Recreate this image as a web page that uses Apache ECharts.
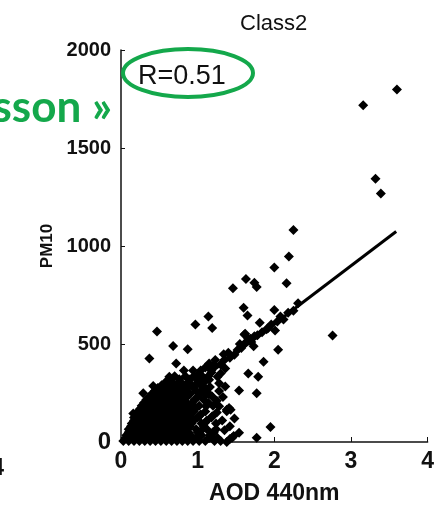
<!DOCTYPE html>
<html>
<head>
<meta charset="utf-8">
<script src="https://cdn.jsdelivr.net/npm/echarts@6/dist/echarts.min.js"></script>
<style>
  html, body { margin: 0; padding: 0; background: #fff; }
  #chart { width: 437px; height: 510px; }
</style>
</head>
<body>
<div id="chart"></div>
<script>
// AOD 440nm vs PM10
const xTicks = [0, 1, 2, 3, 4]
const yTicks = [0, 500, 1000, 1500, 2000]

// the big black blob near the origin, row by row (pm10 level, aod values)
const denseRows = [
  [5, [0.03, 0.10, 0.17, 0.24, 0.31, 0.38, 0.45, 0.52, 0.59, 0.66, 0.73, 0.80, 0.87, 0.94, 1.02, 1.10, 1.22, 1.30]],
  [20, [0.06, 0.13, 0.20, 0.27, 0.34, 0.41, 0.48, 0.55, 0.62, 0.69, 0.76, 0.83, 0.90, 0.98, 1.15, 1.26]],
  [35, [0.07, 0.14, 0.21, 0.28, 0.35, 0.42, 0.49, 0.56, 0.63, 0.70, 0.77, 0.84, 0.91, 1.05, 1.16]],
  [50, [0.10, 0.17, 0.24, 0.31, 0.38, 0.45, 0.52, 0.59, 0.66, 0.73, 0.80, 0.88, 1.00, 1.20]],
  [65, [0.10, 0.17, 0.24, 0.31, 0.38, 0.45, 0.52, 0.59, 0.66, 0.73, 0.80, 0.87, 0.98, 1.12, 1.24]],
  [80, [0.13, 0.20, 0.27, 0.34, 0.41, 0.48, 0.55, 0.62, 0.69, 0.76, 0.83, 0.90, 1.08]],
  [95, [0.14, 0.21, 0.28, 0.35, 0.42, 0.49, 0.56, 0.63, 0.70, 0.77, 0.84, 0.92, 1.05]],
  [110, [0.17, 0.24, 0.31, 0.38, 0.45, 0.52, 0.59, 0.66, 0.73, 0.80, 0.87, 0.95, 1.12]],
  [125, [0.17, 0.24, 0.31, 0.38, 0.45, 0.52, 0.59, 0.66, 0.73, 0.80, 0.88, 1.00, 1.18]],
  [140, [0.20, 0.27, 0.34, 0.41, 0.48, 0.55, 0.62, 0.69, 0.76, 0.83, 0.91, 1.04]],
  [155, [0.22, 0.29, 0.36, 0.43, 0.50, 0.57, 0.64, 0.71, 0.78, 0.85, 0.95, 1.10]],
  [170, [0.25, 0.32, 0.39, 0.46, 0.53, 0.60, 0.67, 0.74, 0.81, 0.88, 0.97]],
  [185, [0.27, 0.34, 0.41, 0.48, 0.55, 0.62, 0.69, 0.76, 0.83, 0.90, 1.02, 1.20]],
  [200, [0.30, 0.37, 0.44, 0.51, 0.58, 0.65, 0.72, 0.79, 0.86, 0.93, 1.14]],
  [215, [0.33, 0.40, 0.47, 0.54, 0.61, 0.68, 0.75, 0.82, 0.96, 1.08]],
  [230, [0.37, 0.44, 0.51, 0.58, 0.65, 0.72, 0.79, 0.86, 1.00]],
  [245, [0.40, 0.47, 0.54, 0.61, 0.68, 0.75, 0.82, 0.90, 1.04, 1.15]],
  [260, [0.44, 0.51, 0.58, 0.65, 0.72, 0.79, 0.86, 0.98]],
  [275, [0.48, 0.55, 0.62, 0.70, 0.78, 0.86, 0.95, 1.10]],
  [290, [0.53, 0.62, 0.72, 0.82, 0.92, 1.04]],
  [305, [0.58, 0.67, 0.78, 0.88, 1.00, 1.08]],
  [320, [0.64, 0.76, 0.90, 1.00, 1.12]],
  [335, [0.70, 0.84, 0.95, 1.06, 1.14]],
  [365, [0.82, 0.94, 1.04, 1.18]]
]

// points in the mixed zone right of the blob
const midPoints = [
  [1.02, 350], [1.15, 317], [1.06, 266], [1.19, 232], [1.11, 182], [1.02, 131],
  [1.19, 131], [1.06, 64], [1.21, 47], [1.28, 182], [1.26, 333], [1.38, 165],
  [1.36, 375], [1.43, 165], [1.21, 392], [1.28, 300], [1.33, 230], [1.25, 150],
  [1.32, 110], [1.42, 80], [1.48, 120], [1.28, 260], [1.16, 280], [1.24, 95],
  [1.12, 245], [1.30, 350], [1.18, 355], [1.10, 100], [1.25, 210], [1.35, 60]
]

// points hugging the fit line
const linePoints = [
  [1.22, 390], [1.30, 395], [1.35, 420], [1.42, 430], [1.48, 445], [1.52, 470],
  [1.57, 480], [1.62, 505], [1.70, 510], [1.78, 545], [1.84, 560], [1.90, 575],
  [1.92, 581], [2.01, 569], [1.96, 600], [2.04, 615], [2.08, 640], [2.12, 625],
  [2.25, 670], [2.31, 708], [1.62, 552], [1.69, 527], [1.10, 380], [1.15, 400],
  [1.40, 455], [1.55, 500], [1.74, 540], [2.18, 660]
]

// sparse points
const outliers = [
  [3.60, 1798], [3.16, 1718], [3.32, 1343], [3.39, 1268], [2.25, 1082], [2.19, 946],
  [2.00, 890], [1.63, 832], [1.74, 813], [1.77, 791], [2.16, 810], [1.46, 784],
  [2.00, 673], [1.60, 685], [1.65, 646], [1.81, 609], [1.14, 640], [1.19, 581],
  [0.47, 564], [0.97, 599], [2.76, 544], [1.61, 549], [1.66, 527], [1.73, 488],
  [2.05, 471], [1.86, 409], [1.79, 333], [1.66, 350], [1.77, 249], [1.54, 263],
  [1.34, 448], [1.23, 418], [1.36, 283], [1.41, 173], [1.38, 157], [1.95, 77],
  [1.77, 22], [1.54, 47], [1.47, 30], [1.42, 15], [1.45, 22], [1.38, 0],
  [0.68, 490], [0.87, 473], [0.37, 426], [0.72, 400], [0.63, 333], [0.42, 286],
  [0.50, 241], [0.29, 249], [0.16, 145]
]

const fitLine = [[0.02, 14], [3.59, 1074]]

const FONT = "'Liberation Sans', Arial, sans-serif"
const GREEN = '#14a84b'

const Chart = {
  init() {
    this.chart = echarts.init(document.getElementById('chart'))
    this.render()
  },

  points() {
    let pts = []
    denseRows.forEach(([pm, aods]) => aods.forEach(a => pts.push([a, pm])))
    return pts.concat(midPoints, linePoints, outliers)
  },

  render() {
    let option = {
      animation: false,
      backgroundColor: '#fff',
      title: {
        text: 'Class2',
        left: 235, top: 8,
        textStyle: { fontFamily: FONT, fontSize: 22, fontWeight: 'normal', color: '#111' }
      },
      grid: { left: 121, right: 6, top: 50, bottom: 64 },
      xAxis: {
        type: 'value', min: xTicks[0], max: xTicks[xTicks.length - 1], interval: 1,
        name: 'AOD 440nm', nameLocation: 'middle', nameGap: 40,
        nameTextStyle: { fontFamily: FONT, fontSize: 23, fontWeight: 'bold', color: '#111' },
        axisLine: { lineStyle: { color: '#111', width: 1.5 } },
        axisTick: { inside: true, length: 5, lineStyle: { color: '#111' } },
        axisLabel: { fontFamily: FONT, fontSize: 23, fontWeight: 'bold', color: '#111', margin: 8 },
        splitLine: { show: false }
      },
      yAxis: {
        type: 'value', min: yTicks[0], max: yTicks[yTicks.length - 1], interval: 500,
        name: 'PM10', nameLocation: 'middle', nameGap: 58,
        nameTextStyle: { fontFamily: FONT, fontSize: 17, fontWeight: 'bold', color: '#111' },
        axisLine: { show: true, lineStyle: { color: '#111', width: 1.5 } },
        axisTick: { show: true, inside: true, length: 4, lineStyle: { color: '#111' } },
        axisLabel: {
          fontFamily: FONT, fontSize: 20, fontWeight: 'bold', color: '#111', margin: 10,
          // the zero label is drawn a bit larger in the original
          formatter: v => v === 0 ? '{big|0}' : String(v),
          rich: { big: { fontFamily: FONT, fontSize: 24, fontWeight: 'bold', color: '#111' } }
        },
        splitLine: { show: false }
      },
      series: [
        {
          type: 'scatter',
          data: this.points(),
          symbol: 'diamond',
          symbolSize: 10,
          itemStyle: { color: '#000', opacity: 1 }
        },
        {
          type: 'line',
          data: fitLine,
          symbol: 'none',
          lineStyle: { color: '#000', width: 3 },
          z: 3
        }
      ],
      graphic: [
        {
          type: 'ellipse',
          shape: { cx: 188, cy: 73, rx: 65, ry: 24 },
          style: { fill: 'none', stroke: GREEN, lineWidth: 4 },
          z: 10
        },
        {
          type: 'text',
          left: 138, top: 63,
          style: { text: 'R=0.51', font: "27px " + FONT, fill: '#111' },
          z: 11
        },
        {
          type: 'text',
          style: { text: 'sson »', x: 112, y: 108, textAlign: 'right', textVerticalAlign: 'middle',
                   font: "bold 44px Lato, 'Open Sans', sans-serif", fill: GREEN },
          z: 11
        },
        {
          type: 'text',
          style: { text: '4', x: 4, y: 469, textAlign: 'right', textVerticalAlign: 'middle',
                   font: "bold 23px " + FONT, fill: '#111' }
        }
      ]
    }
    this.chart.setOption(option)
  }
}

Chart.init()
</script>
</body>
</html>
